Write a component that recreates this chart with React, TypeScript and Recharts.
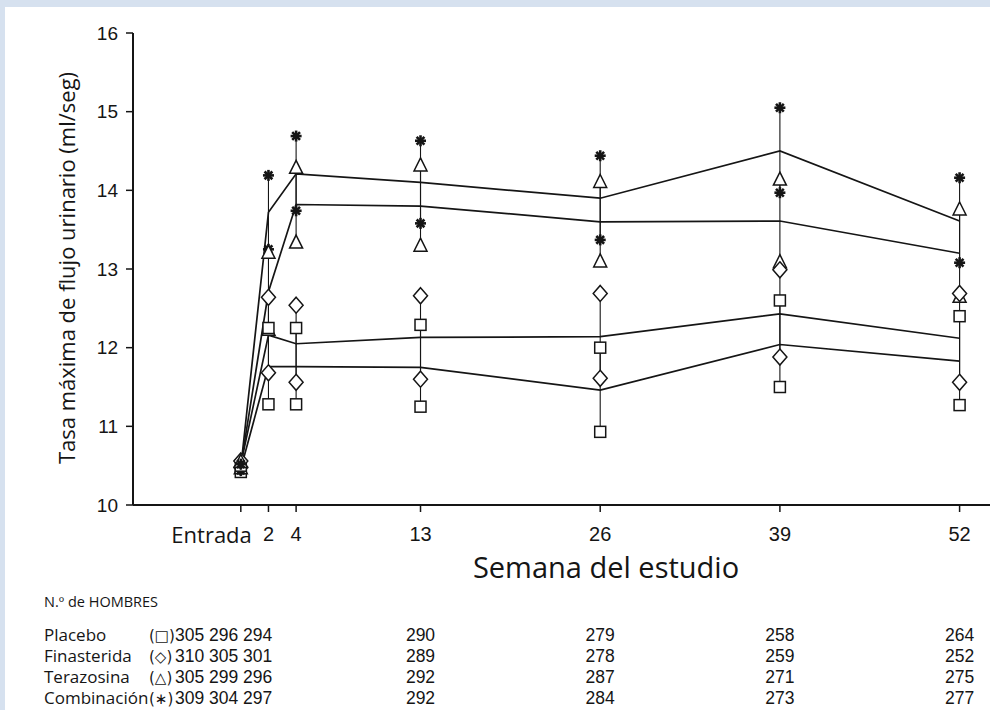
import React from "react";
import { ComposedChart, Line, Scatter, XAxis, YAxis, ErrorBar } from "recharts";

// study weeks (Entrada = 0) and tick labels
const weeks = [0, 2, 4, 13, 26, 39, 52];
const weekLabels = ["Entrada", "2", "4", "13", "26", "39", "52"];

// mean and interval ends, ml/seg
const placeboMean = [10.46, 11.76, 11.76, 11.75, 11.46, 12.04, 11.83];
const placeboHi = [10.5, 12.25, 12.25, 12.29, 12.0, 12.6, 12.4];
const placeboLo = [10.42, 11.28, 11.28, 11.25, 10.93, 11.5, 11.27];

const finMean = [10.52, 12.16, 12.05, 12.13, 12.14, 12.43, 12.12];
const finHi = [10.56, 12.64, 12.54, 12.66, 12.69, 12.99, 12.69];
const finLo = [10.48, 11.68, 11.56, 11.6, 11.61, 11.88, 11.56];

const terMean = [10.5, 12.71, 13.82, 13.8, 13.6, 13.61, 13.2];
const terHi = [10.54, 13.2, 14.28, 14.31, 14.1, 14.13, 13.75];
const terLo = [10.46, 12.22, 13.33, 13.29, 13.09, 13.08, 12.64];

const combMean = [10.48, 13.72, 14.21, 14.1, 13.9, 14.5, 13.61];
const combHi = [10.52, 14.19, 14.69, 14.63, 14.44, 15.05, 14.16];
const combLo = [10.44, 13.25, 13.74, 13.58, 13.37, 13.97, 13.08];

// N.º de hombres
const placeboN = [305, 296, 294, 290, 279, 258, 264];
const finN = [310, 305, 301, 289, 278, 259, 252];
const terN = [305, 299, 296, 292, 287, 271, 275];
const combN = [309, 304, 297, 292, 284, 273, 277];

const groups = [
  { key: "placebo", name: "Placebo", sym: "(\u25A1)", mean: placeboMean, hi: placeboHi, lo: placeboLo, n: placeboN },
  { key: "fin", name: "Finasterida", sym: "(\u25C7)", mean: finMean, hi: finHi, lo: finLo, n: finN },
  { key: "ter", name: "Terazosina", sym: "(\u25B3)", mean: terMean, hi: terHi, lo: terLo, n: terN },
  { key: "comb", name: "Combinación", sym: "(\u2217)", mean: combMean, hi: combHi, lo: combLo, n: combN },
];

const rows = weeks.map((w, i) => {
  const r: any = { week: w };
  groups.forEach((g) => {
    r[g.key] = g.mean[i];
    r[g.key + "Hi"] = g.hi[i];
    r[g.key + "Lo"] = g.lo[i];
    r[g.key + "Err"] = [g.mean[i] - g.lo[i], g.hi[i] - g.mean[i]];
  });
  return r;
});

const INK = "#151515";
const WORD = "'Open Sans', 'Noto Sans', sans-serif";
const NUM = "'Liberation Sans', Arial, sans-serif";
const X_MIN = -7.8;
const X_MAX = 54.2;
const PLOT_L = 133;
const PLOT_R = 990;
const xOf = (w: number) => PLOT_L + ((w - X_MIN) / (X_MAX - X_MIN)) * (PLOT_R - PLOT_L);

const SquareMark = (p: any) => (
  <rect x={p.cx - 5.5} y={p.cy - 5.5} width={11} height={11} fill="#fff" stroke={INK} strokeWidth={1.5} />
);
const DiamondMark = (p: any) => (
  <polygon
    points={`${p.cx},${p.cy - 8} ${p.cx + 7},${p.cy} ${p.cx},${p.cy + 8} ${p.cx - 7},${p.cy}`}
    fill="#fff"
    stroke={INK}
    strokeWidth={1.5}
  />
);
const TriangleMark = (p: any) => (
  <polygon
    points={`${p.cx},${p.cy - 8} ${p.cx + 6.5},${p.cy + 5} ${p.cx - 6.5},${p.cy + 5}`}
    fill="#fff"
    stroke={INK}
    strokeWidth={1.5}
  />
);
const StarMark = (p: any) => (
  <g stroke={INK} strokeWidth={2.6}>
    {[0, 45, 90, 135].map((a) => {
      const dx = 5.5 * Math.cos((a * Math.PI) / 180);
      const dy = 5.5 * Math.sin((a * Math.PI) / 180);
      return <line key={a} x1={p.cx - dx} y1={p.cy - dy} x2={p.cx + dx} y2={p.cy + dy} />;
    })}
  </g>
);
const shapes: any = { placebo: SquareMark, fin: DiamondMark, ter: TriangleMark, comb: StarMark };

const WeekTick = (p: any) => {
  const i = weeks.indexOf(p.payload.value);
  const first = i === 0;
  return (
    <text
      x={first ? p.x + 11 : p.x}
      y={p.y}
      dy="0.71em"
      textAnchor={first ? "end" : "middle"}
      fontFamily={first ? WORD : NUM}
      fontSize={first ? 22 : 20}
      fill={INK}
    >
      {weekLabels[i]}
    </text>
  );
};

export default function App() {
  const rowBase = [641, 662, 683, 704];
  return (
    <div style={{ position: "absolute", left: 0, top: 0, width: 990, height: 710, background: "#d6e1ef", overflow: "hidden" }}>
      <div style={{ position: "absolute", left: 5, top: 7, width: 985, height: 703, background: "#fff" }} />
      <div style={{ position: "absolute", left: 0, top: 0 }}>
        <ComposedChart width={990} height={710} data={rows} margin={{ top: 33, right: 0, bottom: 165, left: 0 }}>
          <XAxis
            dataKey="week"
            type="number"
            domain={[X_MIN, X_MAX]}
            allowDataOverflow
            ticks={weeks}
            tick={<WeekTick />}
            tickSize={7}
            tickMargin={15}
            height={40}
            axisLine={{ stroke: INK, strokeWidth: 2 }}
            tickLine={{ stroke: INK, strokeWidth: 1.5 }}
          />
          <YAxis
            type="number"
            domain={[10, 16]}
            ticks={[10, 11, 12, 13, 14, 15, 16]}
            width={133}
            tickSize={7}
            tickMargin={8}
            axisLine={{ stroke: INK, strokeWidth: 2 }}
            tickLine={{ stroke: INK, strokeWidth: 1.5 }}
            tick={{ fill: INK, fontSize: 19, fontFamily: NUM }}
          />
          {groups.map((g) => (
            <Line
              key={g.key}
              dataKey={g.key}
              type="linear"
              stroke={INK}
              strokeWidth={1.7}
              dot={false}
              activeDot={false}
              isAnimationActive={false}
            >
              <ErrorBar dataKey={g.key + "Err"} width={0} stroke={INK} strokeWidth={1.1} />
            </Line>
          ))}
          {groups.map((g) => (
            <Scatter key={g.key + "Lo"} dataKey={g.key + "Lo"} shape={shapes[g.key]} isAnimationActive={false} />
          ))}
          {groups.map((g) => (
            <Scatter key={g.key + "Hi"} dataKey={g.key + "Hi"} shape={shapes[g.key]} isAnimationActive={false} />
          ))}
        </ComposedChart>
      </div>
      <svg width={990} height={710} style={{ position: "absolute", left: 0, top: 0, pointerEvents: "none" }}>
        <text transform="translate(75,268) rotate(-90)" textAnchor="middle" fontFamily={WORD} fontSize={22} fill={INK}>
          Tasa máxima de flujo urinario (ml/seg)
        </text>
        <text x={606} y={578} textAnchor="middle" fontFamily={WORD} fontSize={29} fill={INK}>
          Semana del estudio
        </text>
        <text x={44} y={607} fontFamily={WORD} fontSize={14.5} fill={INK}>
          N.º de HOMBRES
        </text>
        {groups.map((g, r) => (
          <g key={g.key} fill={INK}>
            <text x={44} y={rowBase[r]} fontFamily={WORD} fontSize={17}>
              {g.name}
            </text>
            <text x={149} y={rowBase[r]} fontFamily={"'DejaVu Sans', sans-serif"} fontSize={15}>
              {g.sym}
            </text>
            <text x={175} y={rowBase[r]} fontFamily={NUM} fontSize={17.5}>
              {g.n.slice(0, 3).join(" ")}
            </text>
            {g.n.slice(3).map((v, j) => (
              <text key={j} x={xOf(weeks[j + 3])} y={rowBase[r]} textAnchor="middle" fontFamily={NUM} fontSize={17.5}>
                {v}
              </text>
            ))}
          </g>
        ))}
      </svg>
    </div>
  );
}
